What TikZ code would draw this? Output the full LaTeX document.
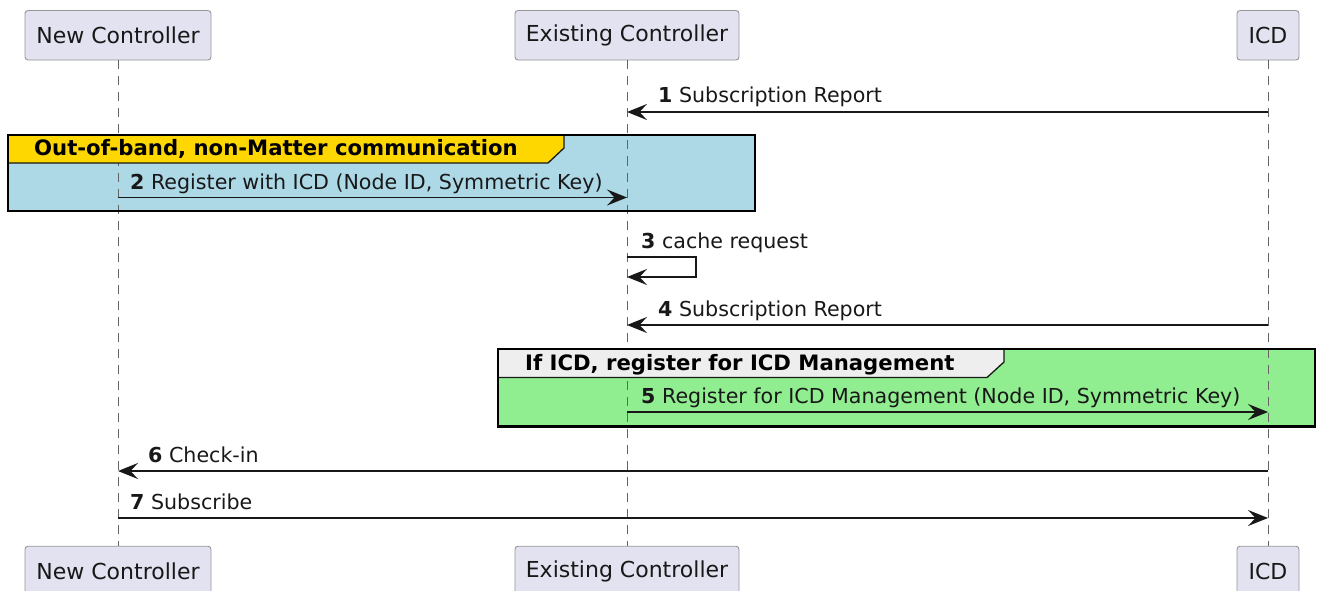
\documentclass[tikz,border=0pt]{standalone}
\usepackage{fontspec}
\setmainfont{DejaVu Sans}
\usetikzlibrary{arrows.meta}
\definecolor{ink}{RGB}{24,24,24}
\definecolor{partfill}{RGB}{226,226,240}
\definecolor{partline}{RGB}{150,150,150}
\definecolor{lifegray}{RGB}{100,100,100}
\definecolor{gbluebody}{RGB}{173,216,230}
\definecolor{ggoldhead}{RGB}{255,215,0}
\definecolor{ggreenbody}{RGB}{144,238,144}
\definecolor{ggrayhead}{RGB}{238,238,238}
\tikzset{
  part/.style={draw=partline, fill=partfill, line width=0.9pt, rounded corners=3pt,
    minimum height=49.5pt, inner xsep=0pt, inner ysep=0pt, text=ink,
    font=\fontsize{22}{26}\selectfont},
  lifeline/.style={draw=lifegray, line width=1pt, dash pattern=on 9pt off 7pt},
  msg/.style={draw=ink, line width=1.4pt, -{Stealth[length=20pt,width=16pt,inset=7.5pt]}},
  msglabel/.style={anchor=base west, inner sep=0pt, text=ink, font=\fontsize{20.6}{24}\selectfont},
  grouphead/.style={draw=ink, line width=1.3pt},
  groupframe/.style={draw=black, line width=2.5pt},
  grouptitle/.style={anchor=base west, inner sep=0pt, text=black, font=\fontsize{21.2}{25}\selectfont\bfseries},
}
\begin{document}
\begin{tikzpicture}[x=1pt,y=-1pt]
\useasboundingbox (0,0) rectangle (1317,591);

% participants
\node[part, minimum width=186pt] (nc) at (118,35.3) {New Controller};
\node[part, minimum width=224pt] (ec) at (627,35.3) {Existing Controller};
\node[part, minimum width=62pt] (icd) at (1268,35.3) {ICD};
\node[part, minimum width=186pt] (ncb) at (118,571) {New Controller};
\node[part, minimum width=224pt] (ecb) at (627,571) {Existing Controller};
\node[part, minimum width=62pt] (icdb) at (1268,571) {ICD};

% group bodies
\fill[gbluebody] (8,135) rectangle (755,211);
\fill[ggreenbody] (498,349) rectangle (1315,426.5);

% lifelines
\draw[lifeline] (nc.south) -- (ncb.north);
\draw[lifeline] (ec.south) -- (ecb.north);
\draw[lifeline] (icd.south) -- (icdb.north);

% group headers and frames
\filldraw[grouphead, fill=ggoldhead] (8,135) -- (564,135) -- (564,148) -- (548,163) -- (8,163) -- cycle;
\draw[groupframe] (8,135) rectangle (755,211);
\node[grouptitle] (g1t) at (34,156) {Out-of-band, non-Matter communication};

\filldraw[grouphead, fill=ggrayhead] (498,349) -- (1004,349) -- (1004,362) -- (987,377.5) -- (498,377.5) -- cycle;
\draw[groupframe] (498,349) rectangle (1315,426.5);
\node[grouptitle] (g2t) at (525,370) {If ICD, register for ICD Management};

% message rows
\coordinate (y1) at (0,112);
\coordinate (y2) at (0,197.5);
\coordinate (y3a) at (0,257);
\coordinate (y3b) at (0,277);
\coordinate (y4) at (0,325);
\coordinate (y5) at (0,412);
\coordinate (y6) at (0,471);
\coordinate (y7) at (0,518);
\coordinate (selfx) at (696,0);

\draw[msg] (icd |- y1) -- (ec |- y1);
\node[msglabel] (l1) at (658,103) {\textbf{1} Subscription Report};

\draw[msg] (nc |- y2) -- (ec |- y2);
\node[msglabel] (l2) at (130,189) {\textbf{2} Register with ICD (Node ID, Symmetric Key)};

\draw[msg] (ec |- y3a) -- (selfx |- y3a) -- (selfx |- y3b) -- (ec |- y3b);
\node[msglabel] (l3) at (641,248) {\textbf{3} cache request};

\draw[msg] (icd |- y4) -- (ec |- y4);
\node[msglabel] (l4) at (658,316.5) {\textbf{4} Subscription Report};

\draw[msg] (ec |- y5) -- (icd |- y5);
\node[msglabel] (l5) at (641,403) {\textbf{5} Register for ICD Management (Node ID, Symmetric Key)};

\draw[msg] (icd |- y6) -- (nc |- y6);
\node[msglabel] (l6) at (148,462) {\textbf{6} Check-in};

\draw[msg] (nc |- y7) -- (icd |- y7);
\node[msglabel] (l7) at (130,509) {\textbf{7} Subscribe};
\end{tikzpicture}
\end{document}
